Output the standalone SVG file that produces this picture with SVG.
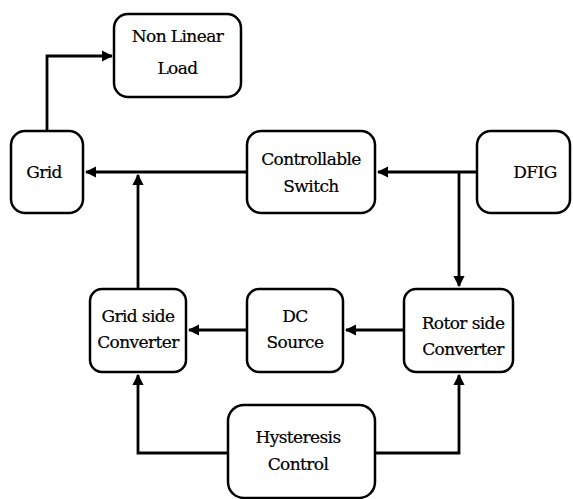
<svg xmlns="http://www.w3.org/2000/svg" width="573" height="499" viewBox="0 0 573 499">
<style>
.box{fill:#fff;stroke:#000;stroke-width:2.5}
.c{fill:none;stroke:#000;stroke-width:2.8}
</style>
<defs>
<marker id="ah" viewBox="0 0 10 10" refX="9" refY="5" markerWidth="4" markerHeight="4" markerUnits="strokeWidth" orient="auto">
<path d="M0,0 L10,5 L0,10 z" fill="#000"/>
</marker>
</defs>
<rect width="573" height="499" fill="#fff"/>
<g id="connectors">
<path class="c" d="M47,130 V56 H112" marker-end="url(#ah)"/>
<path class="c" d="M247,172 H86" marker-end="url(#ah)"/>
<path class="c" d="M138,288 V175" marker-end="url(#ah)"/>
<path class="c" d="M477,172 H378" marker-end="url(#ah)"/>
<path class="c" d="M459,172 V286" marker-end="url(#ah)"/>
<path class="c" d="M247,330 H189" marker-end="url(#ah)"/>
<path class="c" d="M404,330 H346" marker-end="url(#ah)"/>
<path class="c" d="M228,453 H138 V375" marker-end="url(#ah)"/>
<path class="c" d="M375,453 H459 V375" marker-end="url(#ah)"/>
</g>
<g font-family="DejaVu Serif, Liberation Serif, serif" font-size="17" text-anchor="middle" fill="#000" stroke="#000" stroke-width="0.2" letter-spacing="-0.6">
<g id="load"><rect class="box" x="114" y="14" width="127" height="83" rx="14"/>
<text x="177.5" y="42">Non Linear</text><text x="177.5" y="74">Load</text></g>
<g id="grid"><rect class="box" x="11" y="131" width="72" height="82" rx="14"/>
<text x="44" y="178">Grid</text></g>
<g id="switch"><rect class="box" x="247" y="131" width="128" height="82" rx="14"/>
<text x="311" y="165">Controllable</text><text x="311" y="192">Switch</text></g>
<g id="dfig"><rect class="box" x="477" y="131" width="93" height="82" rx="14"/>
<text x="535" y="178">DFIG</text></g>
<g id="gsc"><rect class="box" x="90" y="289" width="96" height="83" rx="12"/>
<text x="138" y="322">Grid side</text><text x="138" y="348">Converter</text></g>
<g id="dc"><rect class="box" x="247" y="289" width="96" height="83" rx="12"/>
<text x="295" y="322">DC</text><text x="295" y="348">Source</text></g>
<g id="rsc"><rect class="box" x="404" y="289" width="109" height="83" rx="12"/>
<text x="463" y="329">Rotor side</text><text x="463" y="355">Converter</text></g>
<g id="hyst"><rect class="box" x="228" y="405" width="147" height="93" rx="16"/>
<text x="298" y="443">Hysteresis</text><text x="298" y="470">Control</text></g>
</g>
</svg>
